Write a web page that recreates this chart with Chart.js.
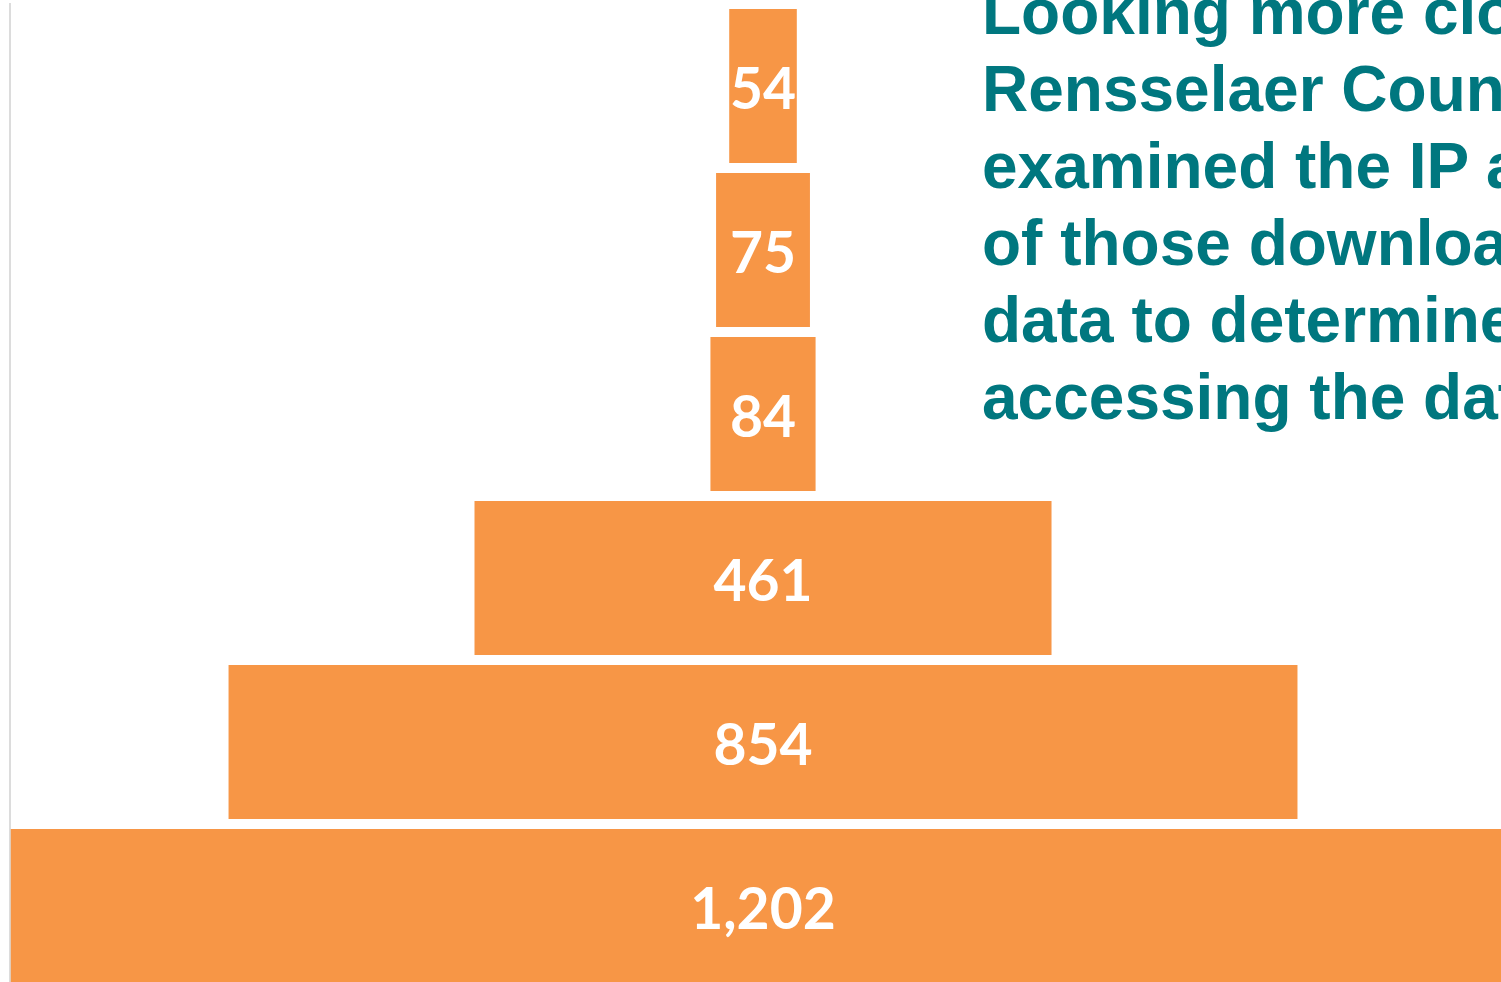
<!DOCTYPE html>
<html>
<head>
<meta charset="utf-8">
<script src="https://cdn.jsdelivr.net/npm/chart.js@4.4.0/dist/chart.umd.min.js"></script>
<style>
  html, body { margin: 0; padding: 0; background: #fff; overflow: hidden; width: 1501px; height: 982px; }
  #wrap { position: absolute; left: 0; top: 0; width: 1501px; height: 990px; }
  #note {
    position: absolute; left: 982px; top: -26px;
    font-family: "Liberation Sans", Arial, sans-serif; font-weight: bold;
    font-size: 64px; line-height: 77px; color: #00777f; white-space: nowrap;
  }
</style>
</head>
<body>
<div id="wrap"><canvas id="graficoEmbudo"></canvas></div>
<div id="note">
  Looking more closely at<br>
  Rensselaer County, we<br>
  examined the IP addresses<br>
  of those downloading the<br>
  data to determine who was<br>
  accessing the data.
</div>
<script>
  const etapas = ['Etapa 1', 'Etapa 2', 'Etapa 3', 'Etapa 4', 'Etapa 5', 'Etapa 6'];
  const valores = [54, 75, 84, 461, 854, 1202];

  // each bar sits centred on zero, like a funnel
  const barras = valores.map(v => [-v / 2, v / 2]);

  const etiquetas = {
    id: 'etiquetas',
    afterDatasetsDraw(chart) {
      const c = chart.ctx;
      const meta = chart.getDatasetMeta(0);
      c.save();
      c.fillStyle = '#ffffff';
      c.font = 'bold 57px Lato, "Open Sans", sans-serif';
      c.textAlign = 'center';
      c.textBaseline = 'middle';
      meta.data.forEach((bar, i) => {
        const cx = chart.scales.x.getPixelForValue(0);
        c.fillText(valores[i].toLocaleString('en-US'), cx, bar.y + 5);
      });
      c.restore();
    }
  };

  new Chart(document.getElementById('graficoEmbudo'), {
    type: 'bar',
    data: {
      labels: etapas,
      datasets: [{
        data: barras,
        backgroundColor: '#f79646',
        borderWidth: 0,
        barPercentage: 1,
        categoryPercentage: 0.939
      }]
    },
    options: {
      indexAxis: 'y',
      responsive: true,
      maintainAspectRatio: false,
      animation: false,
      layout: { padding: { left: 2, top: 4, bottom: 2, right: 0 } },
      plugins: { legend: { display: false }, tooltip: { enabled: false } },
      scales: {
        x: { display: false, min: -601.6, max: 589.6 },
        y: {
          ticks: { display: false },
          grid: { display: false },
          border: { display: true, color: '#dcdcdc', width: 2 }
        }
      }
    },
    plugins: [etiquetas]
  });
</script>
</body>
</html>
